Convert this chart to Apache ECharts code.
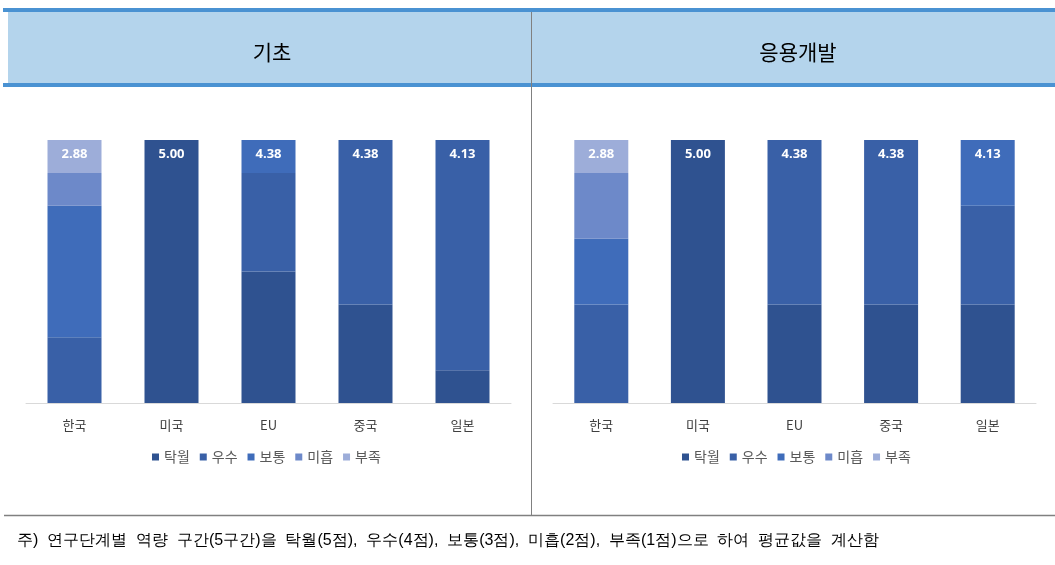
<!DOCTYPE html>
<html>
<head>
<meta charset="utf-8">
<script src="https://cdn.jsdelivr.net/npm/echarts@6/dist/echarts.min.js"></script>
<style>
  html, body { margin: 0; padding: 0; background: #fff; }
  #main { width: 1055px; height: 565px; }
</style>
</head>
<body>
<div id="main"></div>
<script>
// 국가 / 등급
var countries = ['한국', '미국', 'EU', '중국', '일본'];
var levels = ['탁월', '우수', '보통', '미흡', '부족'];
var levelColors = ['#2F5290', '#3960A7', '#3F6CBA', '#6D89C9', '#9DADD9'];

// 기초 (%), 등급별 응답 비율
var basic = {
  '탁월': [0, 100, 50, 37.5, 12.5],
  '우수': [25, 0, 37.5, 62.5, 87.5],
  '보통': [50, 0, 12.5, 0, 0],
  '미흡': [12.5, 0, 0, 0, 0],
  '부족': [12.5, 0, 0, 0, 0]
};
var basicAvg = [2.88, 5.00, 4.38, 4.38, 4.13];

// 응용개발 (%)
var applied = {
  '탁월': [0, 100, 37.5, 37.5, 37.5],
  '우수': [37.5, 0, 62.5, 62.5, 37.5],
  '보통': [25, 0, 0, 0, 25],
  '미흡': [25, 0, 0, 0, 0],
  '부족': [12.5, 0, 0, 0, 0]
};
var appliedAvg = [2.88, 5.00, 4.38, 4.38, 4.13];

var footnote = '주)  연구단계별  역량  구간(5구간)을  탁월(5점),  우수(4점),  보통(3점),  미흡(2점),  부족(1점)으로  하여  평균값을  계산함';

var KR = '"Noto Sans CJK KR", sans-serif';

// 각 막대의 맨 위 구간에만 평균값 라벨 표시
function buildSeries(table, avg, idx) {
  var topLevel = countries.map(function (c, i) {
    var t = -1;
    levels.forEach(function (lv, k) { if (table[lv][i] > 0) t = k; });
    return t;
  });
  return levels.map(function (lv, k) {
    return {
      name: lv,
      type: 'bar',
      stack: 'g' + idx,
      xAxisIndex: idx,
      yAxisIndex: idx,
      barWidth: 54,
      itemStyle: { color: levelColors[k] },
      label: {
        position: 'insideTop',
        distance: 8,
        color: '#fff',
        fontWeight: 'bold',
        fontSize: 13,
        fontFamily: '"Open Sans", sans-serif',
        formatter: function (p) { return avg[p.dataIndex].toFixed(2); }
      },
      data: table[lv].map(function (v, i) {
        return { value: v, label: { show: topLevel[i] === k } };
      })
    };
  });
}

var chart = echarts.init(document.getElementById('main'));

var axisCommon = {
  type: 'category',
  data: countries,
  axisLine: { lineStyle: { color: '#D9D9D9' } },
  axisTick: { lineStyle: { color: '#D9D9D9' }, length: 5 },
  axisLabel: { color: '#404040', fontSize: 13, fontFamily: KR, margin: 16 }
};

var legendCommon = {
  data: levels, top: 445, icon: 'rect', itemWidth: 7, itemHeight: 7, itemGap: 10,
  textStyle: { fontSize: 14, color: '#595959', fontFamily: KR }
};

var option = {
  animation: false,
  title: [
    { text: '기초', left: 267, top: 47, textAlign: 'center', textVerticalAlign: 'middle',
      textStyle: { fontSize: 21, fontWeight: 'normal', color: '#000', fontFamily: KR } },
    { text: '응용개발', left: 793, top: 47, textAlign: 'center', textVerticalAlign: 'middle',
      textStyle: { fontSize: 21, fontWeight: 'normal', color: '#000', fontFamily: KR } }
  ],
  legend: [
    Object.assign({ left: 147 }, legendCommon),
    Object.assign({ left: 677 }, legendCommon)
  ],
  grid: [
    { left: 26, width: 485, top: 140, height: 263 },
    { left: 553, width: 483, top: 140, height: 263 }
  ],
  xAxis: [
    Object.assign({ gridIndex: 0 }, axisCommon),
    Object.assign({ gridIndex: 1 }, axisCommon)
  ],
  yAxis: [
    { type: 'value', gridIndex: 0, min: 0, max: 100, show: false },
    { type: 'value', gridIndex: 1, min: 0, max: 100, show: false }
  ],
  graphic: [
    { type: 'rect', shape: { x: 8, y: 12, width: 1047, height: 71 }, style: { fill: '#B4D4EC' }, z: -1 },
    { type: 'rect', shape: { x: 3, y: 8, width: 1052, height: 4 }, style: { fill: '#4A92D2' } },
    { type: 'rect', shape: { x: 3, y: 83, width: 1052, height: 4 }, style: { fill: '#4A92D2' } },
    { type: 'line', shape: { x1: 531.5, y1: 12, x2: 531.5, y2: 516 }, style: { stroke: '#808080', lineWidth: 1 } },
    { type: 'line', shape: { x1: 4, y1: 515.5, x2: 1055, y2: 515.5 }, style: { stroke: '#808080', lineWidth: 1.5 } },
    { type: 'text', left: 17, top: 533,
      style: { text: footnote, fontSize: 16, fill: '#000', font: '16px ' + KR } }
  ],
  series: buildSeries(basic, basicAvg, 0).concat(buildSeries(applied, appliedAvg, 1))
};

chart.setOption(option);
</script>
</body>
</html>
